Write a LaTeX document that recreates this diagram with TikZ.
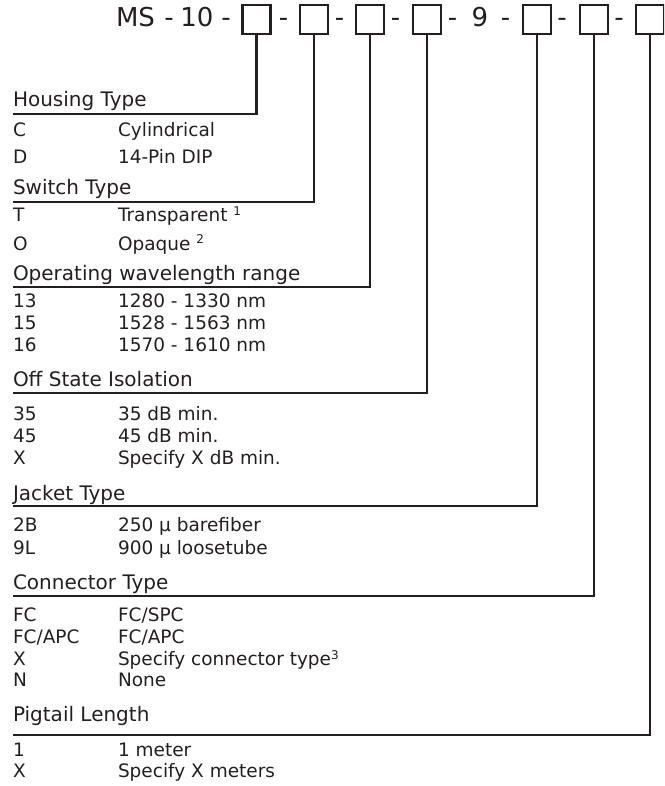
\documentclass[tikz,border=0pt]{standalone}
\usepackage{fontspec}
\setmainfont{DejaVu Sans}
\definecolor{ink}{HTML}{231F20}
\newcommand{\supmark}[1]{\raisebox{6pt}{\fontsize{12}{12}\selectfont #1}}
\begin{document}
\begin{tikzpicture}[x=1pt,y=-1pt,
  every node/.style={inner sep=0pt, outer sep=0pt, text=ink},
  code/.style={font=\fontsize{26}{30}\selectfont, anchor=base},
  slot/.style={draw=ink, line width=2.3pt, minimum width=28pt, minimum height=29.5pt},
  heading/.style={font=\fontsize{20}{24}\selectfont, anchor=base west},
  item/.style={font=\fontsize{18.5}{22}\selectfont, anchor=base west},
  lead/.style={draw=ink, line width=2.2pt}]
\useasboundingbox (0,0) rectangle (664,786);
\clip (0,0) rectangle (664,786);

% ---- part number code ----
\node[code, anchor=base west] (ms) at (116,27) {MS};
\node[code] (d0) at (169,27) {-};
\node[code] (ten) at (197,27) {10};
\node[code] (d1) at (226,27) {-};
\node[slot] (b1) at (256.5,19.5) {};
\node[code] (d2) at (283.5,27) {-};
\node[slot] (b2) at (314,19.5) {};
\node[code] (d3) at (339.5,27) {-};
\node[slot] (b3) at (370,19.5) {};
\node[code] (d4) at (395.5,27) {-};
\node[slot] (b4) at (427,19.5) {};
\node[code] (d5) at (452.5,27) {-};
\node[code] (nine) at (480,27) {9};
\node[code] (d6) at (505.5,27) {-};
\node[slot] (b5) at (537,19.5) {};
\node[code] (d7) at (562,27) {-};
\node[slot] (b6) at (594,19.5) {};
\node[code] (d8) at (619,27) {-};
\node[slot] (b7) at (650,19.5) {};

% ---- left ends of the leader lines ----
\coordinate (l1) at (13,114);
\coordinate (l2) at (13,202);
\coordinate (l3) at (13,287);
\coordinate (l4) at (13,393);
\coordinate (l5) at (13,506);
\coordinate (l6) at (13,596);
\coordinate (l7) at (13,735);

\draw[lead] (b1.south) |- (l1);
\draw[lead] (b2.south) |- (l2);
\draw[lead] (b3.south) |- (l3);
\draw[lead] (b4.south) |- (l4);
\draw[lead] (b5.south) |- (l5);
\draw[lead] (b6.south) |- (l6);
\draw[lead] (b7.south) |- (l7);

% ---- option tables ----
\node[heading] (h1) at (13,107) {Housing Type};
\node[item] (k11) at (13,136.5) {C};
\node[item] (v11) at (118,136.5) {Cylindrical};
\node[item] (k12) at (13,163.3) {D};
\node[item] (v12) at (118,163.3) {14-Pin DIP};

\node[heading] (h2) at (13,195) {Switch Type};
\node[item] (k21) at (13,221.7) {T};
\node[item] (v21) at (118,221.7) {Transparent \supmark{1}};
\node[item] (k22) at (13,250) {O};
\node[item] (v22) at (118,250) {Opaque \supmark{2}};

\node[heading] (h3) at (13,280) {Operating wavelength range};
\node[item] (k31) at (13,307.7) {13};
\node[item] (v31) at (118,307.7) {1280 - 1330 nm};
\node[item] (k32) at (13,329.5) {15};
\node[item] (v32) at (118,329.5) {1528 - 1563 nm};
\node[item] (k33) at (13,351.5) {16};
\node[item] (v33) at (118,351.5) {1570 - 1610 nm};

\node[heading] (h4) at (13,386) {Off State Isolation};
\node[item] (k41) at (13,420.5) {35};
\node[item] (v41) at (118,420.5) {35 dB min.};
\node[item] (k42) at (13,442.5) {45};
\node[item] (v42) at (118,442.5) {45 dB min.};
\node[item] (k43) at (13,464) {X};
\node[item] (v43) at (118,464) {Specify X dB min.};

\node[heading] (h5) at (13,500) {Jacket Type};
\node[item] (k51) at (13,531.5) {2B};
\node[item] (v51) at (118,531.5) {250 µ barefiber};
\node[item] (k52) at (13,554) {9L};
\node[item] (v52) at (118,554) {900 µ loosetube};

\node[heading] (h6) at (13,589) {Connector Type};
\node[item] (k61) at (13,621.5) {FC};
\node[item] (v61) at (118,621.5) {FC/SPC};
\node[item] (k62) at (13,643.5) {FC/APC};
\node[item] (v62) at (118,643.5) {FC/APC};
\node[item] (k63) at (13,665) {X};
\node[item] (v63) at (118,665) {Specify connector type\supmark{3}};
\node[item] (k64) at (13,686.5) {N};
\node[item] (v64) at (118,686.5) {None};

\node[heading] (h7) at (13,721) {Pigtail Length};
\node[item] (k71) at (13,756) {1};
\node[item] (v71) at (118,756) {1 meter};
\node[item] (k72) at (13,777) {X};
\node[item] (v72) at (118,777) {Specify X meters};
\end{tikzpicture}
\end{document}
